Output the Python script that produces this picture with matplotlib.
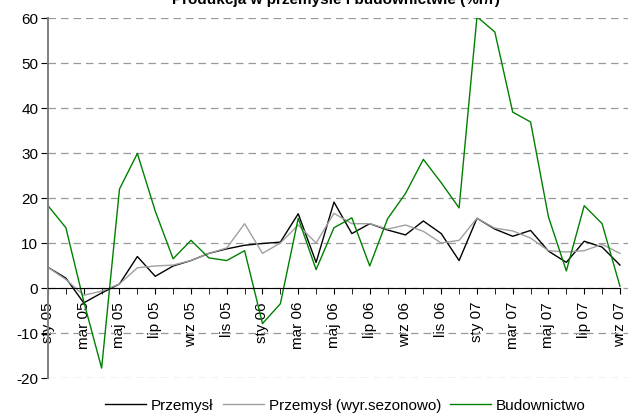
import numpy as np
import matplotlib
matplotlib.use("Agg")
import matplotlib.pyplot as plt

plt.rcParams['font.family'] = ['Liberation Sans', 'DejaVu Sans']
plt.rcParams['axes.unicode_minus'] = False

# miesiące sty 05 .. wrz 07
months = ['sty', 'lut', 'mar', 'kwi', 'maj', 'cze', 'lip', 'sie', 'wrz', 'paź', 'lis', 'gru']
labels = [f'{m} {y:02d}' for y in (5, 6, 7) for m in months][:33]

przemysl = [4.6, 2.2, -3.3, -1.1, 0.9, 7.0, 2.6, 4.9, 6.1, 7.7, 8.7, 9.5,
            9.9, 10.2, 16.5, 5.7, 19.1, 12.1, 14.3, 12.9, 11.8, 14.9,
            12.1, 6.1, 15.5, 13.1, 11.5, 12.8, 8.2, 5.7, 10.4, 9.1, 5.1]
przemysl_sa = [4.6, 1.9, -1.6, -0.7, 0.9, 4.5, 4.9, 5.1, 6.1, 7.7, 8.9, 14.3,
               7.7, 10.0, 14.0, 10.0, 16.6, 14.3, 14.3, 13.1, 14.0, 12.6,
               10.0, 10.6, 15.5, 13.3, 12.7, 11.1, 8.3, 8.0, 8.3, 9.7, 7.7]
budownictwo = [18.3, 13.4, -3.0, -17.8, 22.0, 29.9, 17.1, 6.5, 10.6, 6.7, 6.1, 8.3,
               -7.9, -3.5, 15.5, 4.1, 13.4, 15.6, 4.9, 15.4, 21.0, 28.6,
               23.4, 17.8, 60.3, 56.9, 39.1, 36.9, 15.8, 3.8, 18.3, 14.3, 0.4]

x = np.arange(len(labels))

fig = plt.figure(figsize=(6.28, 4.2), dpi=100)
ax = fig.add_axes([48 / 628, 0.1, 1 - 48 / 628, 0.957 - 0.1])

ax.plot(x, przemysl, color='black', lw=1.0, label='Przemysł')
ax.plot(x, przemysl_sa, color='#a0a0a0', lw=1.0, label='Przemysł (wyr.sezonowo)')
ax.plot(x, budownictwo, color='#008000', lw=1.0, label='Budownictwo')

ax.set_ylim(-20, 60)
ax.set_xlim(0, 32.45)
ax.set_yticks(range(-20, 61, 10))
ax.yaxis.grid(True, linestyle=(0, (6, 4)), color='#999999', lw=0.9)
ax.set_axisbelow(True)

ax.set_xticks(x, minor=True)
ax.set_xticks(x[::2])
ax.set_xticklabels(labels[::2])
ax.tick_params(axis='x', which='both', direction='out', length=4, color='black')
ax.tick_params(axis='x', which='major', pad=6, labelsize=11, labelrotation=90)
ax.tick_params(axis='y', direction='out', length=5, color='black', labelsize=11, pad=2)
for t in ax.get_xticklabels():
    t.set_va('top')
    t.set_ha('center')

for s in ('top', 'right'):
    ax.spines[s].set_visible(False)
ax.spines['bottom'].set_position(('data', 0))
ax.spines['bottom'].set_bounds(0, 32)
ax.spines['left'].set_color('#808080')
ax.spines['left'].set_linewidth(1.4)

fig.text(0.535, 1 - 4 / 420, 'Produkcja w przemyśle i budownictwie (%r/r)',
         ha='center', va='baseline', fontsize=11, fontweight='bold')

fig.legend(loc='lower center', bbox_to_anchor=(0.55, -0.015), ncol=3, frameon=False,
           fontsize=11, handlelength=2.7, handletextpad=0.3, columnspacing=0.6)

fig.savefig('out.png', dpi=100)
